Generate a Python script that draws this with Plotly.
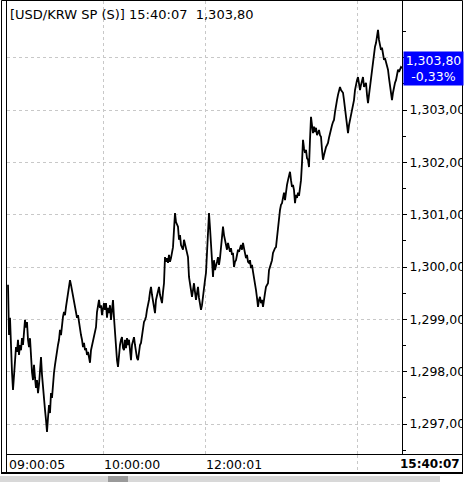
import plotly.graph_objects as go

# ---------------- data ----------------
prices = [
    1299.66, 1298.70, 1299.03, 1298.41, 1297.99, 1297.65, 1297.88, 1298.22, 1298.47, 1298.38,
    1298.61, 1298.32, 1298.51, 1298.41, 1298.64, 1298.51, 1298.80, 1298.99, 1298.84, 1298.95,
    1298.61, 1298.47, 1298.64, 1298.22, 1297.99, 1297.84, 1298.13, 1297.88, 1297.69, 1297.84,
    1297.59, 1297.75, 1298.03, 1298.28, 1297.94, 1297.65, 1297.42, 1297.27, 1297.08, 1296.85,
    1297.12, 1297.36, 1297.21, 1297.59, 1297.50, 1297.84, 1297.98, 1298.13, 1298.28, 1298.41,
    1298.51, 1298.61, 1298.80, 1298.70, 1298.95, 1299.05, 1299.14, 1299.08, 1299.24, 1299.37,
    1299.47, 1299.60, 1299.75, 1299.66, 1299.56, 1299.50, 1299.37, 1299.27, 1299.18, 1299.03,
    1299.08, 1298.93, 1298.80, 1298.70, 1298.61, 1298.47, 1298.55, 1298.41, 1298.45, 1298.32,
    1298.38, 1298.28, 1298.17, 1298.41, 1298.51, 1298.61, 1298.70, 1298.80, 1298.85, 1299.14,
    1299.27, 1299.37, 1299.22, 1299.27, 1299.08, 1299.18, 1299.31, 1299.18, 1299.31, 1299.03,
    1299.22, 1299.12, 1299.27, 1298.99, 1299.18, 1299.37, 1299.03, 1298.74, 1298.41, 1298.22,
    1298.09, 1298.38, 1298.51, 1298.61, 1298.66, 1298.45, 1298.41, 1298.61, 1298.45, 1298.64,
    1298.51, 1298.61, 1298.38, 1298.22, 1298.51, 1298.61, 1298.66, 1298.51, 1298.38, 1298.26,
    1298.22, 1298.41, 1298.51, 1298.55, 1298.70, 1298.85, 1298.95, 1298.99, 1299.05, 1299.18,
    1299.27, 1299.37, 1299.52, 1299.62, 1299.47, 1299.37, 1299.22, 1299.12, 1299.37, 1299.47,
    1299.50, 1299.62, 1299.47, 1299.37, 1299.31, 1299.52, 1299.69, 1300.19, 1300.10, 1300.17,
    1300.08, 1300.23, 1300.10, 1300.17, 1300.33, 1300.38, 1300.71, 1301.03, 1300.86, 1300.80,
    1300.77, 1300.52, 1300.61, 1300.42, 1300.36, 1300.33, 1300.52, 1300.42, 1300.33, 1300.27,
    1300.19, 1299.81, 1299.66, 1299.56, 1299.43, 1299.56, 1299.69, 1299.52, 1299.37, 1299.50,
    1299.62, 1299.41, 1299.24, 1299.18, 1299.27, 1299.47, 1299.62, 1299.75, 1299.89, 1300.23,
    1300.46, 1301.03, 1300.75, 1300.52, 1300.13, 1299.81, 1300.13, 1299.94, 1300.00, 1300.10,
    1300.19, 1300.04, 1300.17, 1300.33, 1300.52, 1300.77, 1300.61, 1300.52, 1300.42, 1300.33,
    1300.46, 1300.38, 1300.29, 1300.36, 1300.23, 1300.27, 1300.00, 1300.10, 1300.13, 1300.23,
    1300.33, 1300.29, 1300.38, 1300.42, 1300.33, 1300.46, 1300.36, 1300.29, 1300.17, 1300.23,
    1300.10, 1300.08, 1300.13, 1299.98, 1300.04, 1299.91, 1299.81, 1299.71, 1299.56, 1299.41,
    1299.24, 1299.37, 1299.43, 1299.31, 1299.37, 1299.24, 1299.41, 1299.50, 1299.62, 1299.66,
    1299.69, 1299.94, 1300.00, 1300.10, 1300.13, 1300.27, 1300.33, 1300.36, 1300.38, 1300.57,
    1300.84, 1300.90, 1301.09, 1301.19, 1301.22, 1301.32, 1301.42, 1301.28, 1301.47, 1301.57,
    1301.66, 1301.76, 1301.82, 1301.66, 1301.53, 1301.57, 1301.47, 1301.22, 1301.38, 1301.32,
    1301.42, 1301.36, 1301.47, 1301.66, 1301.99, 1302.43, 1302.27, 1302.18, 1302.24, 1302.08,
    1302.05, 1301.91, 1302.43, 1302.87, 1302.71, 1302.56, 1302.68, 1302.58, 1302.66, 1302.52,
    1302.56, 1302.62, 1302.52, 1302.49, 1302.24, 1302.05, 1302.14, 1302.24, 1302.29, 1302.33,
    1302.37, 1302.47, 1302.56, 1302.68, 1302.71, 1302.77, 1302.81, 1302.96, 1303.13, 1303.19,
    1303.29, 1303.38, 1303.44, 1303.38, 1303.35, 1303.33, 1303.19, 1303.04, 1302.94, 1302.71,
    1302.56, 1302.71, 1302.81, 1302.91, 1303.00, 1303.06, 1303.19, 1303.38, 1303.52, 1303.57,
    1303.63, 1303.48, 1303.38, 1303.48, 1303.57, 1303.63, 1303.44, 1303.48, 1303.52, 1303.29,
    1303.13, 1303.29, 1303.44, 1303.61, 1303.77, 1303.90, 1304.15, 1304.21, 1304.28, 1304.43,
    1304.53, 1304.34, 1304.21, 1304.15, 1304.19, 1304.09, 1303.96, 1303.99, 1303.90, 1303.86,
    1303.77, 1303.61, 1303.44, 1303.29, 1303.19, 1303.33, 1303.44, 1303.52, 1303.57, 1303.67,
    1303.77, 1303.73, 1303.80, 1303.82, 1303.80,
]
tick_numbers = list(range(len(prices)))

time_labels = ["09:00:05", "10:00:00", "12:00:01"]
time_label_ticks = [-1, 94, 196]
time_grid_ticks = [95, 197, 349]
end_time_label = "15:40:07"

price_ticks = [1297, 1298, 1299, 1300, 1301, 1302, 1303, 1304]
price_tick_labels = ["1,297,00", "1,298,00", "1,299,00", "1,300,00",
                     "1,301,00", "1,302,00", "1,303,00", ""]
price_minor_ticks = [1296.5, 1297.5, 1298.5, 1299.5, 1300.5, 1301.5, 1302.5, 1303.5, 1304.5]

last_price = 1303.80
last_price_label = "1,303,80"
last_change_label = "-0,33%"
title_text = "[USD/KRW SP (S)] 15:40:07\u00a0\u00a01,303,80"

# ---------------- layout helpers ----------------
W, H = 465, 482
L, R, T, B = 7, 63, 1, 28
PW = W - L - R
PH = H - T - B
FONT = "DejaVu Sans"
GRID = "#c8c8c8"


def px(x):
    return (x - L) / PW


def py(y):
    return (H - B - y) / PH


fig = go.Figure(
    go.Scatter(x=tick_numbers, y=prices, mode="lines",
               line=dict(color="black", width=1.8), hoverinfo="skip")
)

fig.update_layout(
    width=W, height=H,
    margin=dict(l=L, r=R, t=T, b=B, pad=0),
    paper_bgcolor="white", plot_bgcolor="white",
    showlegend=False,
    font=dict(family=FONT, size=12.5, color="black"),
)

fig.update_xaxes(
    range=[-1, 394], tickvals=time_grid_ticks, showticklabels=False, ticks="",
    showgrid=True, gridcolor=GRID, griddash="3px,3px", gridwidth=1,
    zeroline=False, showline=False, fixedrange=True,
)
fig.update_yaxes(
    side="right", range=[1296.427, 1305.083],
    tickvals=price_ticks, ticktext=price_tick_labels,
    ticks="outside", ticklen=4, tickcolor="black", tickwidth=1,
    tickfont=dict(family=FONT, size=12.5, color="black"),
    showline=True, linecolor="black", linewidth=1,
    showgrid=True, gridcolor=GRID, griddash="3px,3px", gridwidth=1,
    zeroline=False, fixedrange=True,
    minor=dict(tickvals=price_minor_ticks, ticks="outside", ticklen=3,
               tickcolor="black", tickwidth=1, showgrid=False),
)

shapes = []


def line(x0, y0, x1, y1, width=1, color="black", dash=None):
    d = dict(type="line", xref="paper", yref="paper",
             x0=px(x0), y0=py(y0), x1=px(x1), y1=py(y1),
             line=dict(color=color, width=width), layer="above")
    if dash:
        d["line"]["dash"] = dash
    shapes.append(d)


# mask for labels running past the right border
shapes.append(dict(type="rect", xref="paper", yref="paper",
                   x0=px(462.5), x1=px(472), y0=py(476), y1=py(-2),
                   fillcolor="white", line=dict(width=0), layer="above"))
# gray strip under the frame
shapes.append(dict(type="rect", xref="paper", yref="paper",
                   x0=px(0), x1=px(440), y0=py(482), y1=py(476),
                   fillcolor="#d8d8d8", line=dict(width=0), layer="above"))
shapes.append(dict(type="rect", xref="paper", yref="paper",
                   x0=px(108), x1=px(128), y0=py(482), y1=py(476),
                   fillcolor="#9a9a9a", line=dict(width=0), layer="above"))

line(1.5, 0.5, 1.5, 474)         # outer left
line(6.5, 0.5, 6.5, 474)         # inner left
line(1.5, 0.5, 462.5, 0.5)       # top
line(462.5, 0.5, 462.5, 474)     # right border
line(6.5, 454.5, 462.5, 454.5)   # top of time row
line(1.5, 473, 463, 473, width=2)  # bottom
line(357.5, 455, 357.5, 472, color=GRID, dash="3px,3px")

annotations = [
    dict(text=title_text, xref="paper", yref="paper", x=px(8), y=py(14),
         xanchor="left", yanchor="middle", showarrow=False,
         font=dict(family=FONT, size=13, color="black")),
    dict(text=last_price_label + "<br>" + last_change_label,
         xref="paper", yref="y", x=px(403), y=last_price,
         xanchor="left", yanchor="middle", showarrow=False,
         bgcolor="#0000ff", borderpad=0, width=59, height=33, align="center",
         font=dict(family=FONT, size=12.5, color="white")),
    dict(text="<b>" + end_time_label + "</b>", xref="paper", yref="paper",
         x=px(462), y=py(464), xanchor="right", yanchor="middle", showarrow=False,
         font=dict(family=FONT, size=12, color="black")),
]
for lab, t in zip(time_labels, time_label_ticks):
    annotations.append(dict(text=lab, xref="x", yref="paper", x=t, y=py(464),
                            xanchor="left", yanchor="middle", showarrow=False,
                            font=dict(family=FONT, size=12.5, color="black")))

fig.update_layout(shapes=shapes, annotations=annotations)

fig.write_html("out.html", config={"displayModeBar": False},
               post_script="document.body.style.margin='0';document.body.style.padding='0';")
